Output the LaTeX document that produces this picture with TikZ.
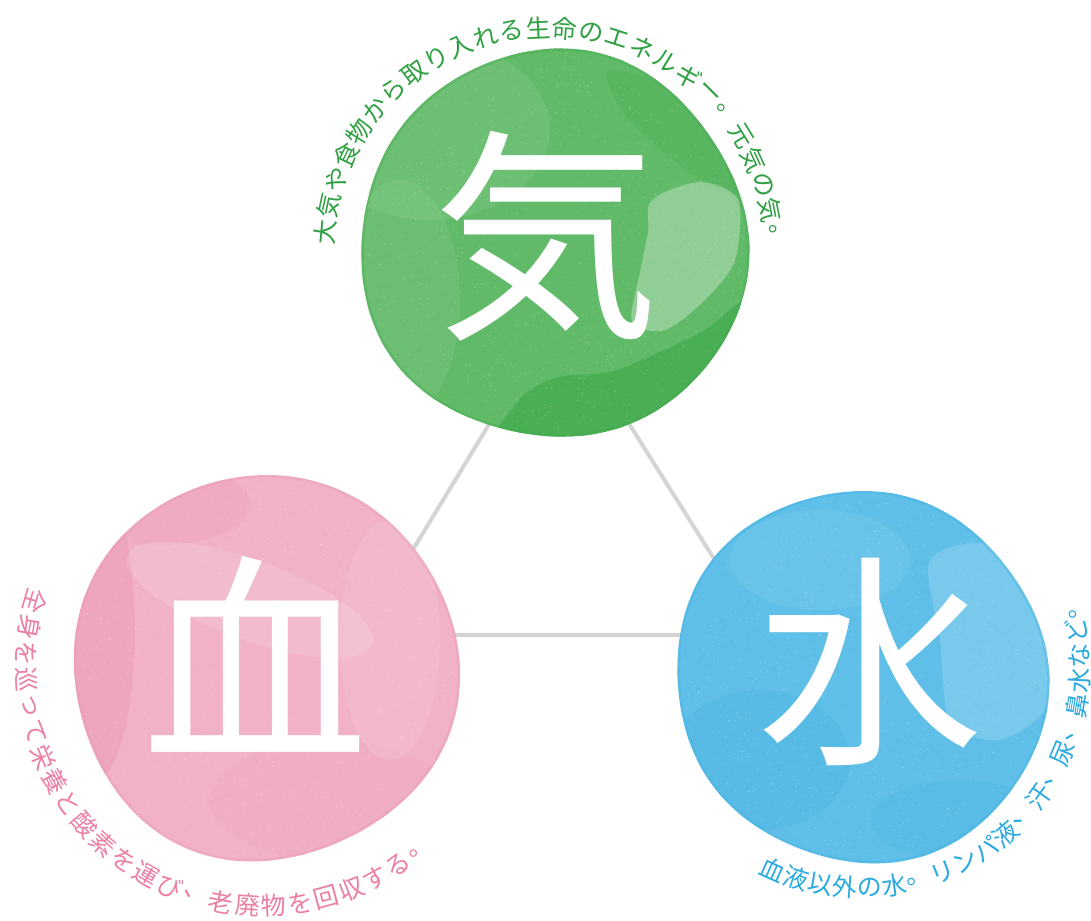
\documentclass[tikz,border=0pt]{standalone}
\usepackage{fontspec}
\newfontfamily\jp{Noto Sans CJK JP}
\begin{document}
\begin{tikzpicture}[x=1pt,y=1pt,
  link/.style={draw=linkgray, line width=4pt, line join=round},
  bigchar/.style={inner sep=0pt, text=white, font=\jp\fontsize{226}{226}\selectfont},
  arctext/.style={inner sep=0pt, font=\jp\fontsize{25}{25}\selectfont},
  grain/.style={fill=white, opacity=0.16}]
\definecolor{linkgray}{HTML}{D4D4D4}
\definecolor{kiBase}{HTML}{60BA68}
\definecolor{kiDark}{HTML}{44AC50}
\definecolor{kiText}{HTML}{31A043}
\definecolor{ketsuBase}{HTML}{F1B2C7}
\definecolor{ketsuDark}{HTML}{EA95B4}
\definecolor{ketsuText}{HTML}{EB7FA5}
\definecolor{suiBase}{HTML}{5FBFE8}
\definecolor{suiDark}{HTML}{45B3E2}
\definecolor{suiText}{HTML}{2BAAE0}
\useasboundingbox (0,0) rectangle (1091,920);
\pgfmathsetseed{11}

% shapes in screen coordinates (origin top left, y downwards)
\begin{scope}[yshift=920pt, y=-1pt]
  % triangle linking the three circles
  \coordinate (apex) at (558,311);
  \coordinate (lower left) at (361,635);
  \coordinate (lower right) at (762,635);
  \draw[link] (apex) -- (lower left) -- (lower right) -- cycle;

  % green wash
  \def\kiwash{[shift={(554,245)}] plot[smooth cycle, domain=0:350, samples=36] (\x:{194+2.5*sin(3*\x)+1.5*cos(5*\x)})}
  \fill[kiBase] \kiwash;
  \begin{scope}
    \clip \kiwash;
    \fill[white, opacity=0.08] (430,130) ellipse (120 and 90);
    \fill[white, opacity=0.07] (400,300) ellipse (60 and 120);
    \fill[kiDark, opacity=0.8] plot[smooth cycle] coordinates {(500,470) (515,405) (555,378) (610,372) (660,352) (705,330) (745,300) (790,300) (790,470)};
    \fill[kiDark, opacity=0.25] plot[smooth cycle] coordinates {(610,70) (700,100) (760,170) (735,195) (680,165) (625,115)};
    \fill[white, opacity=0.3] plot[smooth cycle] coordinates {(652,200) (700,182) (738,200) (735,260) (705,300) (665,330) (632,322) (640,272) (648,232)};
    \draw[kiDark, opacity=0.35, line width=5pt] \kiwash;
    \foreach \k in {1,...,900}{
      \fill[grain] ([shift={(554,245)}]{360*rnd}:{196*sqrt(rnd)}) circle (0.9);
    }
  \end{scope}

  % pink wash
  \def\ketsuwash{[shift={(265,668)}] plot[smooth cycle, domain=0:350, samples=36] (\x:{193+2*sin(4*\x)+2*cos(3*\x)})}
  \fill[ketsuBase] \ketsuwash;
  \begin{scope}
    \clip \ketsuwash;
    \fill[ketsuDark, opacity=0.4] (95,630) ellipse (40 and 150);
    \fill[ketsuDark, opacity=0.22] (160,505) ellipse (90 and 40);
    \fill[ketsuDark, opacity=0.12] (330,800) ellipse (120 and 60);
    \fill[white, opacity=0.14, rotate around={-20:(250,600)}] (250,600) ellipse (130 and 40);
    \fill[white, opacity=0.1] (390,640) ellipse (50 and 120);
    \draw[ketsuDark, opacity=0.3, line width=5pt] \ketsuwash;
    \foreach \k in {1,...,900}{
      \fill[grain] ([shift={(265,668)}]{360*rnd}:{195*sqrt(rnd)}) circle (0.9);
    }
  \end{scope}

  % blue wash
  \def\suiwash{[shift={(862,677)}] plot[smooth cycle, domain=0:350, samples=36] (\x:{186+3*sin(2*\x)+1.5*cos(5*\x)})}
  \fill[suiBase] \suiwash;
  \begin{scope}
    \clip \suiwash;
    \fill[white, opacity=0.16] plot[smooth cycle] coordinates {(930,560) (990,545) (1040,600) (1050,700) (1000,740) (950,720) (940,640)};
    \fill[suiDark, opacity=0.3] (760,760) ellipse (90 and 70);
    \fill[suiDark, opacity=0.2] (960,820) ellipse (90 and 40);
    \fill[white, opacity=0.07] (820,560) ellipse (90 and 50);
    \draw[suiDark, opacity=0.35, line width=5pt] \suiwash;
    \foreach \k in {1,...,900}{
      \fill[grain] ([shift={(862,677)}]{360*rnd}:{190*sqrt(rnd)}) circle (0.9);
    }
  \end{scope}
\end{scope}

% large characters
\node[bigchar] (ki) at (546,684) {気};
\node[bigchar] (ketsu) at (255,266) {血};
\node[bigchar] (sui) at (870,258) {水};

% captions set along arcs
\foreach \c [count=\i from 0] in {大,気,や,食,物,か,ら,取,り,入,れ,る,生,命,の,エ,ネ,ル,ギ,ー,。,元,気,の,気,。}{
  \pgfmathsetmacro\a{174.6-6.82*\i}
  \node[arctext, text=kiText, rotate=\a-90] (kicap\i) at ([shift={(\a:225)}]549,667) {\c};
}
\foreach \c [count=\i from 0] in {全,身,を,巡,っ,て,栄,養,と,酸,素,を,運,び,、,老,廃,物,を,回,収,す,る,。}{
  \pgfmathsetmacro\a{163.7+6.39*\i}
  \node[arctext, text=ketsuText, rotate=\a+90] (ketsucap\i) at ([shift={(\a:238)}]264,252) {\c};
}
\foreach \c [count=\i from 0] in {血,液,以,外,の,水,。,リ,ン,パ,液,、,汗,、,尿,、,鼻,水,な,ど,。}{
  \pgfmathsetmacro\a{245.8+6.55*\i}
  \node[arctext, text=suiText, rotate=\a+90] (suicap\i) at ([shift={(\a:218)}]862,250) {\c};
}
\end{tikzpicture}
\end{document}
